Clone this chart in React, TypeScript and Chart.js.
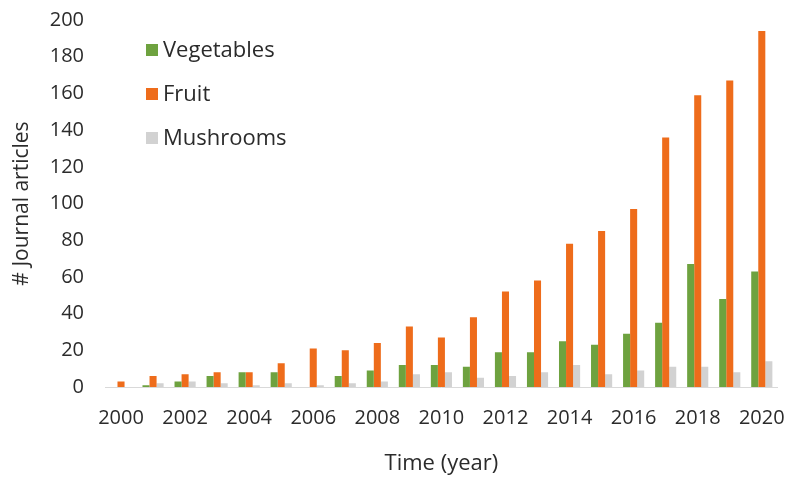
import React, { useEffect, useRef } from "react";
import { Chart, registerables } from "chart.js";

Chart.register(...registerables);

const years = [
  "2000", "2001", "2002", "2003", "2004", "2005", "2006", "2007", "2008", "2009", "2010",
  "2011", "2012", "2013", "2014", "2015", "2016", "2017", "2018", "2019", "2020",
];
const vegetables = [0, 1, 3, 6, 8, 8, 0, 6, 9, 12, 12, 11, 19, 19, 25, 23, 29, 35, 67, 48, 63];
const fruit = [3, 6, 7, 8, 8, 13, 21, 20, 24, 33, 27, 38, 52, 58, 78, 85, 97, 136, 159, 167, 194];
const mushrooms = [0, 2, 3, 2, 1, 2, 1, 2, 3, 7, 8, 5, 6, 8, 12, 7, 9, 11, 11, 8, 14];
const seriesNames = ["Vegetables", "Fruit", "Mushrooms"];
const yMax = 200;
const yStep = 20;
const xTitle = "Time (year)";
const yTitle = "# Journal articles";

const FONT = "'Open Sans', 'DejaVu Sans', sans-serif";
const TEXT = "#2B2B2B";

const insideLegend = {
  id: "insideLegend",
  afterDraw(chart: any) {
    const { ctx, chartArea } = chart;
    ctx.save();
    ctx.font = `22px ${FONT}`;
    ctx.textBaseline = "middle";
    ctx.textAlign = "left";
    chart.data.datasets.forEach((ds: any, i: number) => {
      const cy = chartArea.top + 30 + i * 44;
      const sx = chartArea.left + 41;
      ctx.fillStyle = ds.backgroundColor;
      ctx.fillRect(sx, cy - 6, 12, 12);
      ctx.fillStyle = TEXT;
      ctx.fillText(ds.label, sx + 17, cy + 1);
    });
    ctx.restore();
  },
};

export default function App() {
  const ref = useRef<HTMLCanvasElement | null>(null);

  useEffect(() => {
    if (!ref.current) return;
    const chart = new Chart(ref.current, {
      type: "bar",
      data: {
        labels: years,
        datasets: [
          { label: seriesNames[0], data: vegetables, backgroundColor: "#6EA23F" },
          { label: seriesNames[1], data: fruit, backgroundColor: "#EE6C1B" },
          { label: seriesNames[2], data: mushrooms, backgroundColor: "#D2D2D2" },
        ],
      },
      options: {
        animation: false,
        responsive: false,
        maintainAspectRatio: false,
        layout: { padding: { top: 20, right: 14, left: 0, bottom: 0 } },
        datasets: { bar: { categoryPercentage: 0.66, barPercentage: 1.0 } },
        plugins: {
          legend: { display: false },
          tooltip: { enabled: false },
        },
        scales: {
          x: {
            grid: { display: false, drawTicks: false },
            border: { display: true, color: "#D9D9D9", width: 1 },
            ticks: {
              autoSkip: false,
              maxRotation: 0,
              minRotation: 0,
              padding: 19,
              color: TEXT,
              font: { family: FONT, size: 20 },
              callback: (_v: any, i: number) => (i % 2 === 0 ? years[i] : ""),
            },
            title: {
              display: true,
              text: xTitle,
              color: TEXT,
              font: { family: FONT, size: 22 },
              padding: { top: 0, bottom: 1 },
            },
            afterFit: (s: any) => {
              s.height = 91;
            },
          },
          y: {
            min: 0,
            max: yMax,
            grid: { display: false, drawTicks: false },
            border: { display: false },
            ticks: {
              stepSize: yStep,
              padding: 21,
              color: TEXT,
              font: { family: FONT, size: 20 },
            },
            title: {
              display: true,
              text: yTitle,
              color: TEXT,
              font: { family: FONT, size: 21 },
              padding: { top: 9, bottom: 0 },
            },
            afterFit: (s: any) => {
              s.width = 105;
              s.paddingTop = 0;
              s.paddingBottom = 0;
            },
          },
        },
      },
      plugins: [insideLegend],
    });
    return () => chart.destroy();
  }, []);

  return (
    <div style={{ position: "absolute", left: 0, top: 0, width: 804, height: 478, background: "#fff" }}>
      <canvas ref={ref} width={804} height={478} style={{ width: 804, height: 478, display: "block" }} />
    </div>
  );
}
